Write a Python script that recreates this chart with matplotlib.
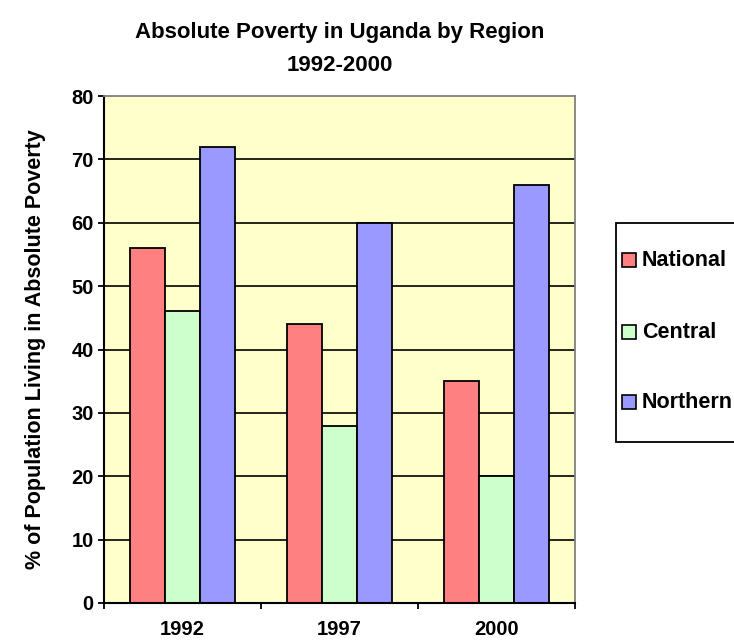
import matplotlib
matplotlib.use("Agg")
import matplotlib.pyplot as plt
from matplotlib.patches import Rectangle
import numpy as np

plt.rcParams['font.family'] = ['Liberation Sans', 'DejaVu Sans']
plt.rcParams['font.weight'] = 'bold'

years = ["1992", "1997", "2000"]
series_names = ["National", "Central", "Northern"]
national = [56, 44, 35]
central = [46, 28, 20]
northern = [72, 60, 66]
yticks = [0, 10, 20, 30, 40, 50, 60, 70, 80]
title_lines = ["Absolute Poverty in Uganda by Region", "1992-2000"]
ylabel = "% of Population Living in Absolute Poverty"

colors = ["#FF8080", "#CCFFCC", "#9999FF"]
values = [national, central, northern]

W, H = 734, 641
fig = plt.figure(figsize=(W / 100, H / 100), dpi=100)
fig.patch.set_facecolor("white")

ax_l, ax_r, ax_t, ax_b = 104, 575, 96, 603
ax = fig.add_axes([ax_l / W, 1 - ax_b / H, (ax_r - ax_l) / W, (ax_b - ax_t) / H])
ax.set_facecolor("#FFFFCC")

x = np.arange(len(years))
bw = 1 / 4.5
for i, (vals, c) in enumerate(zip(values, colors)):
    ax.bar(x + (i - 1) * bw, vals, width=bw, color=c, edgecolor="black",
           linewidth=1.3, zorder=3)

ax.set_xlim(-0.5, len(years) - 0.5)
ax.set_ylim(0, 80)
ax.set_yticks(yticks)
ax.set_yticklabels([str(v) for v in yticks], fontsize=14.5, fontweight='bold')
ax.set_axisbelow(True)
for v in yticks[1:-1]:
    ax.axhline(v, color="black", linewidth=1.2, zorder=1)

ax.set_xticks(np.arange(len(years) + 1) - 0.5)
ax.set_xticklabels([])
ax.set_xticks(x, minor=True)
ax.set_xticklabels(years, minor=True, fontsize=14.5, fontweight='bold')
ax.tick_params(axis='x', which='minor', length=0, pad=12.5)
ax.tick_params(axis='x', which='major', length=4.5, width=1.3, direction='out')
ax.tick_params(axis='y', length=4.5, width=1.3, direction='out', pad=3)

for s in ['left', 'bottom']:
    ax.spines[s].set_color('black')
    ax.spines[s].set_linewidth(1.5)
for s in ['top', 'right']:
    ax.spines[s].set_color('#808080')
    ax.spines[s].set_linewidth(1.3)
for s in ax.spines.values():
    s.set_zorder(4)

ax.set_ylabel(ylabel, fontsize=15.5, fontweight='bold', va='center')
ax.yaxis.set_label_coords(-(ax_l - 36) / (ax_r - ax_l), 0.5)

fig.text(339.5 / W, 1 - 38 / H, title_lines[0], ha='center', va='baseline',
         fontsize=16, fontweight='bold')
fig.text(339.5 / W, 1 - 71 / H, title_lines[1], ha='center', va='baseline',
         fontsize=16, fontweight='bold')

# legend (manual, clipped at figure edge like the original)
lg_l, lg_t, lg_b = 616, 223, 442
fig.patches.append(Rectangle((lg_l / W, 1 - lg_b / H), (760 - lg_l) / W, (lg_b - lg_t) / H,
                             transform=fig.transFigure, facecolor='white',
                             edgecolor='black', linewidth=1.3))
entry_y = [260, 332, 402]
for name, c, ey in zip(series_names, colors, entry_y):
    sq = 14
    fig.patches.append(Rectangle((622 / W, 1 - (ey + sq / 2) / H), sq / W, sq / H,
                                 transform=fig.transFigure, facecolor=c,
                                 edgecolor='black', linewidth=1.2))
    fig.text(642 / W, 1 - ey / H, name, ha='left', va='center',
             fontsize=15.5, fontweight='bold')

fig.savefig("out.png", dpi=100)
